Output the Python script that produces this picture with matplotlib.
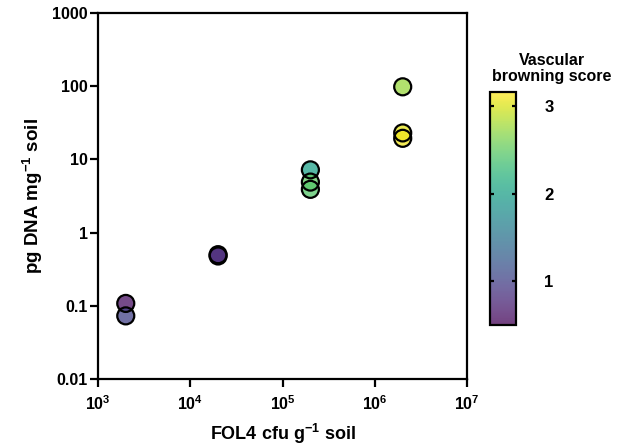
import numpy as np
import matplotlib
matplotlib.use('Agg')
import matplotlib.pyplot as plt
from matplotlib.colors import Normalize
import matplotlib.cm as cm

plt.rcParams['font.family'] = 'Liberation Sans'
plt.rcParams['font.weight'] = 'bold'
plt.rcParams['mathtext.fontset'] = 'custom'
plt.rcParams['mathtext.rm'] = 'Liberation Sans:bold'
plt.rcParams['mathtext.it'] = 'Liberation Sans:bold'
plt.rcParams['mathtext.bf'] = 'Liberation Sans:bold'
plt.rcParams['mathtext.sf'] = 'Liberation Sans'

# data
cfu = [2e3, 2e3, 2e4, 2e4, 2e5, 2e5, 2e5, 2e6, 2e6, 2e6]
dna = [0.108, 0.073, 0.50, 0.48, 7.2, 4.9, 3.9, 98, 23, 19.4]
score = [0.6, 1.0, 0.8, 0.8, 2.0, 2.5, 2.45, 2.75, 3.05, 3.1]

x_ticks = [1e3, 1e4, 1e5, 1e6, 1e7]
x_ticklabels = ['10$^{\\mathsf{3}}$', '10$^{\\mathsf{4}}$', '10$^{\\mathsf{5}}$',
                '10$^{\\mathsf{6}}$', '10$^{\\mathsf{7}}$']
y_ticks = [0.01, 0.1, 1, 10, 100, 1000]
y_ticklabels = ['0.01', '0.1', '1', '10', '100', '1000']
cb_ticks = [1, 2, 3]

fig = plt.figure(figsize=(6.28, 4.46), dpi=100)
ax = fig.add_axes([0.156, 0.150, 0.588, 0.821])

norm = Normalize(vmin=0.5, vmax=3.16)
cmap = plt.get_cmap('viridis')

ax.scatter(cfu, dna, c=score, cmap=cmap, norm=norm, s=150, alpha=0.75,
           edgecolors='none', zorder=3)
# opaque black rims
ax.scatter(cfu, dna, s=150, facecolors='none', edgecolors='black',
           linewidths=1.6, zorder=4)

ax.set_xscale('log')
ax.set_yscale('log')
ax.set_xlim(1e3, 1e7)
ax.set_ylim(0.01, 1000)
ax.set_xticks(x_ticks)
ax.set_xticklabels(x_ticklabels)
ax.set_yticks(y_ticks)
ax.set_yticklabels(y_ticklabels)
ax.minorticks_off()

for s in ax.spines.values():
    s.set_linewidth(1.6)
ax.tick_params(width=1.6, length=6, labelsize=11.5)
ax.tick_params(axis='y', pad=1.5)
ax.tick_params(axis='x', pad=5)

ax.set_xlabel('FOL4 cfu g$^{-1}$ soil', fontsize=13, fontweight='bold', labelpad=6)
ax.set_ylabel('pg DNA mg$^{-1}$ soil', fontsize=13.5, fontweight='bold', labelpad=5)

# colourbar
cax = fig.add_axes([0.781, 0.271, 0.0414, 0.522])
sm = cm.ScalarMappable(norm=norm, cmap=cmap)
cb = fig.colorbar(sm, cax=cax, alpha=0.75)
cb.set_ticks(cb_ticks)
cb.outline.set_linewidth(1.6)
cax.tick_params(width=1.6, length=3, direction='in', left=True, right=True,
                labelsize=12, pad=20)
fig.text(0.879, 0.846, 'Vascular\nbrowning score', fontsize=11.5, fontweight='bold',
         ha='center', va='center', linespacing=1.1)

fig.savefig('out.png', dpi=100)
